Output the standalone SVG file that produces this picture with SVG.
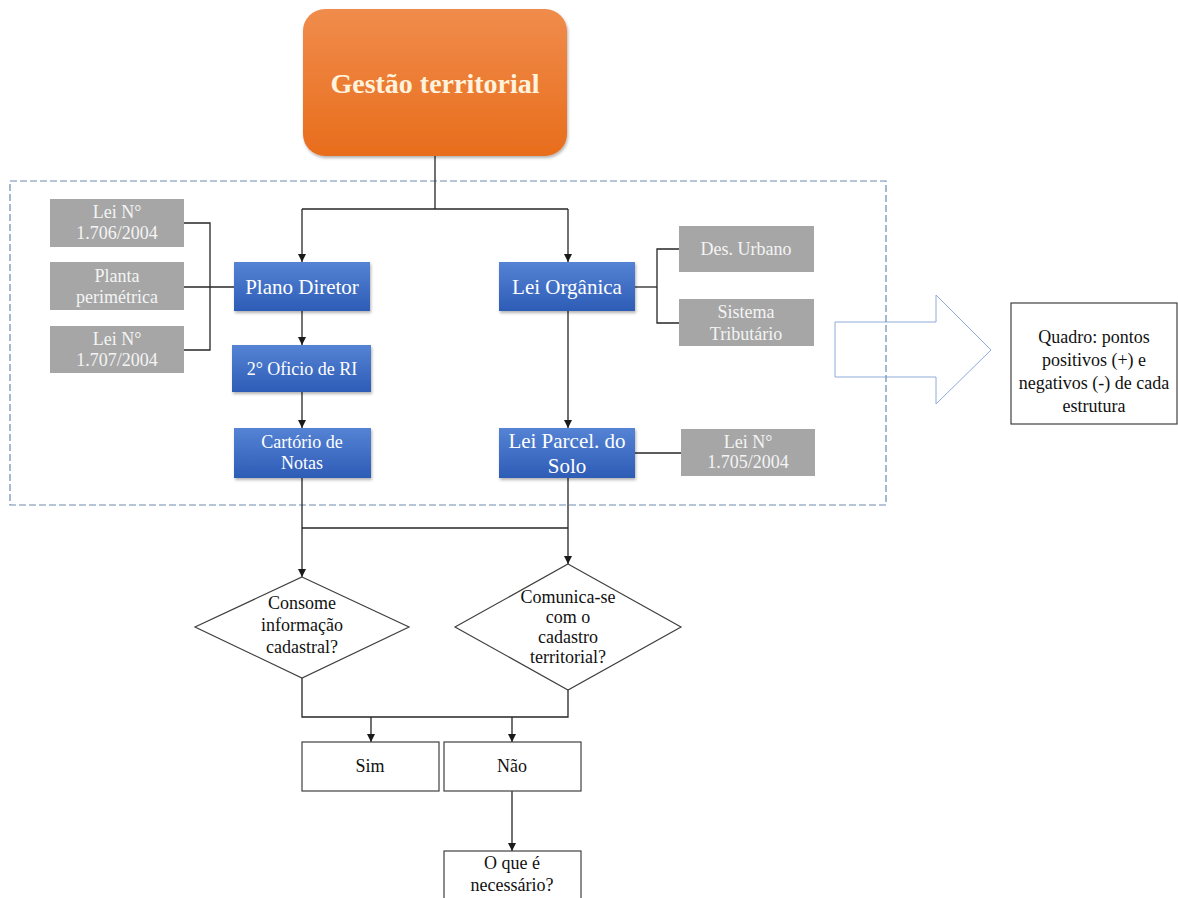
<svg xmlns="http://www.w3.org/2000/svg" width="1178" height="898" viewBox="0 0 1178 898" font-family="'Liberation Serif', 'Times New Roman', serif">
  <style>
    text { font-family: "Liberation Serif", "Times New Roman", serif; text-anchor: middle; }
    .gray { fill: #a6a6a6; }
    .gray-t { fill: #f4f4f4; font-size: 18px; }
    .blue { fill: url(#blueGrad); filter: url(#shadow); }
    .blue-t { fill: #ffffff; }
    .line { fill: none; stroke: #262626; stroke-width: 1.3; }
    .arrow { fill: none; stroke: #262626; stroke-width: 1.3; marker-end: url(#head); }
    .outline { fill: #ffffff; stroke: #404040; stroke-width: 1.2; }
    .dark-t { fill: #111111; font-size: 18px; }
  </style>
  <defs>
    <linearGradient id="orangeGrad" x1="0" y1="0" x2="0" y2="1">
      <stop offset="0" stop-color="#f08c4c"/>
      <stop offset="1" stop-color="#e86d1c"/>
    </linearGradient>
    <linearGradient id="blueGrad" x1="0" y1="0" x2="0" y2="1">
      <stop offset="0" stop-color="#5583d4"/>
      <stop offset="1" stop-color="#2d5cb6"/>
    </linearGradient>
    <filter id="shadow" x="-10%" y="-10%" width="125%" height="130%">
      <feDropShadow dx="1" dy="2" stdDeviation="1.5" flood-color="#000000" flood-opacity="0.3"/>
    </filter>
    <marker id="head" viewBox="0 0 10 10" refX="10" refY="5" markerUnits="userSpaceOnUse" markerWidth="8" markerHeight="8" orient="auto">
      <path d="M0,0 L10,5 L0,10 Z" fill="#1a1a1a"/>
    </marker>
  </defs>

  <rect width="1178" height="898" fill="#ffffff"/>

  <!-- block arrow pointing to the summary table -->
  <g id="block-arrow">
    <path d="M835,322 L936,322 L936,295 L991,350 L936,404 L936,377 L835,377 Z" fill="#ffffff" stroke="#8eaadb" stroke-width="1"/>
  </g>

  <!-- dashed frame around the legal structures -->
  <rect x="10" y="181" width="876" height="324" fill="none" stroke="#6d8cab" stroke-width="1.2" stroke-dasharray="7 3"/>

  <!-- connectors -->
  <g id="connectors">
    <path class="line" d="M435,156 V209"/>
    <path class="line" d="M302,209 H568"/>
    <path class="arrow" d="M302,209 V262"/>
    <path class="arrow" d="M568,209 V262"/>
    <!-- bracket joining the laws to Plano Diretor -->
    <path class="line" d="M184,223 H210 V350 H184"/>
    <path class="line" d="M184,287 H234"/>
    <path class="arrow" d="M302,311 V345"/>
    <path class="arrow" d="M302,392 V428"/>
    <!-- bracket joining Lei Orgânica to its topics -->
    <path class="line" d="M635,287 H657"/>
    <path class="line" d="M679,249 H657 V323 H679"/>
    <path class="arrow" d="M568,311 V428"/>
    <path class="line" d="M635,453 H681"/>
    <!-- merge into the decisions -->
    <path class="line" d="M302,478 V528"/>
    <path class="line" d="M568,478 V528"/>
    <path class="line" d="M302,528 H568"/>
    <path class="arrow" d="M302,528 V577"/>
    <path class="arrow" d="M568,528 V564"/>
    <path class="line" d="M302,678 V717 H568 V690"/>
    <path class="arrow" d="M371,717 V742"/>
    <path class="arrow" d="M512,717 V742"/>
    <path class="arrow" d="M512,791 V851"/>
  </g>

  <g id="gestao-territorial">
    <rect x="303" y="9" width="264" height="147" rx="22" fill="url(#orangeGrad)" filter="url(#shadow)"/>
    <text x="435" y="93" font-size="28" font-weight="bold" fill="#fff3de">Gestão territorial</text>
  </g>

  <g id="lei-1706">
    <rect class="gray" x="50" y="199" width="134" height="48"/>
    <text class="gray-t" x="117" y="218">Lei N°</text>
    <text class="gray-t" x="117" y="239">1.706/2004</text>
  </g>
  <g id="planta-perimetrica">
    <rect class="gray" x="50" y="262" width="134" height="48"/>
    <text class="gray-t" x="117" y="282">Planta</text>
    <text class="gray-t" x="117" y="303">perimétrica</text>
  </g>
  <g id="lei-1707">
    <rect class="gray" x="50" y="326" width="134" height="47"/>
    <text class="gray-t" x="117" y="345">Lei N°</text>
    <text class="gray-t" x="117" y="366">1.707/2004</text>
  </g>

  <g id="plano-diretor">
    <rect class="blue" x="234" y="262" width="136" height="49"/>
    <text class="blue-t" x="302" y="294" font-size="21">Plano Diretor</text>
  </g>
  <g id="oficio-ri">
    <rect class="blue" x="232" y="345" width="139" height="47"/>
    <text class="blue-t" x="302" y="375" font-size="18">2° Oficio de RI</text>
  </g>
  <g id="cartorio-notas">
    <rect class="blue" x="234" y="428" width="137" height="50"/>
    <text class="blue-t" x="302" y="448" font-size="18">Cartório de</text>
    <text class="blue-t" x="302" y="469" font-size="18">Notas</text>
  </g>

  <g id="lei-organica">
    <rect class="blue" x="499" y="262" width="136" height="49"/>
    <text class="blue-t" x="567" y="294" font-size="21">Lei Orgânica</text>
  </g>
  <g id="lei-parcelamento">
    <rect class="blue" x="499" y="428" width="136" height="50"/>
    <text class="blue-t" x="567" y="448" font-size="21">Lei Parcel. do</text>
    <text class="blue-t" x="567" y="473" font-size="21">Solo</text>
  </g>

  <g id="des-urbano">
    <rect class="gray" x="679" y="226" width="135" height="46"/>
    <text class="gray-t" x="746" y="255">Des. Urbano</text>
  </g>
  <g id="sistema-tributario">
    <rect class="gray" x="679" y="299" width="135" height="47"/>
    <text class="gray-t" x="746" y="318">Sistema</text>
    <text class="gray-t" x="746" y="340">Tributário</text>
  </g>
  <g id="lei-1705">
    <rect class="gray" x="681" y="429" width="134" height="47"/>
    <text class="gray-t" x="748" y="448">Lei N°</text>
    <text class="gray-t" x="748" y="468">1.705/2004</text>
  </g>

  <g id="quadro">
    <rect x="1011" y="303" width="166" height="121" fill="#ffffff" stroke="#404040" stroke-width="1.2"/>
    <text class="dark-t" x="1094" y="343" font-size="17">Quadro: pontos</text>
    <text class="dark-t" x="1094" y="366" font-size="17">positivos (+) e</text>
    <text class="dark-t" x="1094" y="389" font-size="17">negativos (-) de cada</text>
    <text class="dark-t" x="1094" y="412" font-size="17">estrutura</text>
  </g>

  <g id="consome-informacao">
    <polygon class="outline" points="302,577 409,627 302,678 195,627"/>
    <text class="dark-t" x="302" y="609">Consome</text>
    <text class="dark-t" x="302" y="631">informação</text>
    <text class="dark-t" x="302" y="653">cadastral?</text>
  </g>
  <g id="comunica-cadastro">
    <polygon class="outline" points="568,564 681,627 568,690 455,627"/>
    <text class="dark-t" x="568" y="603" font-size="17">Comunica-se</text>
    <text class="dark-t" x="568" y="623" font-size="17">com o</text>
    <text class="dark-t" x="568" y="643" font-size="17">cadastro</text>
    <text class="dark-t" x="568" y="663" font-size="17">territorial?</text>
  </g>

  <g id="sim">
    <rect class="outline" x="302" y="742" width="137" height="49"/>
    <text class="dark-t" x="370" y="772">Sim</text>
  </g>
  <g id="nao">
    <rect class="outline" x="444" y="742" width="137" height="49"/>
    <text class="dark-t" x="512" y="772">Não</text>
  </g>
  <g id="o-que-e-necessario">
    <rect class="outline" x="444" y="851" width="137" height="60"/>
    <text class="dark-t" x="512" y="869">O que é</text>
    <text class="dark-t" x="512" y="891">necessário?</text>
  </g>
</svg>
